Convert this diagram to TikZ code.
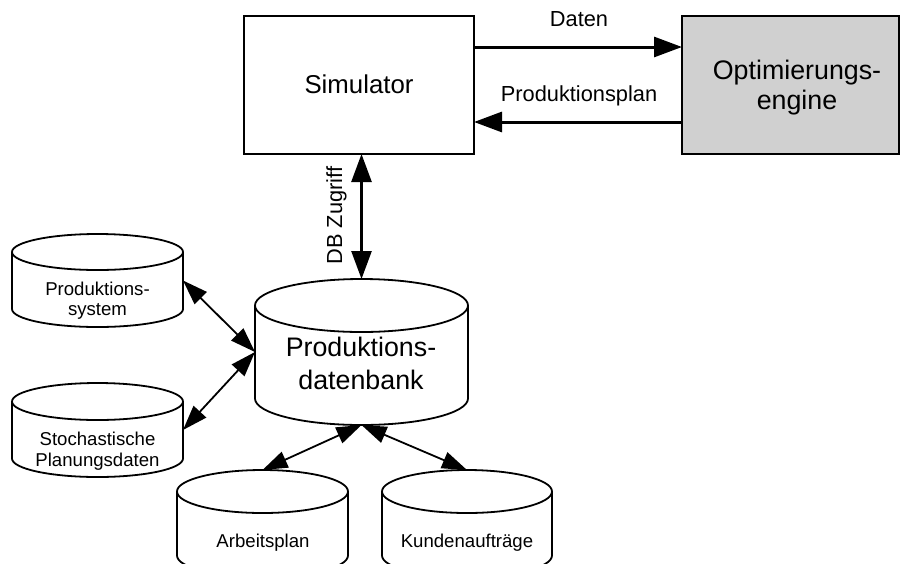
\documentclass[tikz,border=0pt]{standalone}
\usepackage{fontspec}
\setmainfont{Liberation Sans}
\usetikzlibrary{arrows.meta}

\definecolor{enginegray}{RGB}{208,208,208}

\tikzset{
  every node/.style={inner sep=0pt, outer sep=0pt},
  blockbox/.style={draw=black, line width=1.8pt, minimum width=#1},
  drumframe/.style={draw=none, rectangle},
  drumline/.style={draw=black, line width=1.8pt, fill=white},
  bigarrow/.style={line width=3pt, -{Triangle[length=28pt, width=20pt]}},
  dbarrow/.style={line width=2.6pt, {Triangle[length=28pt, width=20pt]}-{Triangle[length=28pt, width=20pt]}},
  linkarrow/.style={line width=1.8pt, {Triangle[length=25pt, width=17pt]}-{Triangle[length=25pt, width=17pt]}},
  bigtext/.style={font=\fontsize{26.8}{30}\selectfont, align=center},
  midtext/.style={font=\fontsize{21.8}{25}\selectfont},
  smalltext/.style={font=\fontsize{18.6}{20.5}\selectfont, align=center},
}

% database drum: name, centre x, top y, bottom y, width, end radius
\newcommand\drum[6]{%
  \pgfmathsetmacro\drumrx{#5/2}%
  \pgfmathsetmacro\drumtop{#3+#6}%
  \pgfmathsetmacro\drumbot{#4-#6}%
  \pgfmathsetmacro\drumh{#4-#3}%
  \pgfmathsetmacro\drummid{(#3+#4)/2}%
  \node[drumframe, minimum width=#5pt, minimum height=\drumh pt] (#1) at (#2,\drummid) {};
  \draw[drumline] (#2,\drumbot) ellipse[x radius=\drumrx, y radius=#6];
  \fill[white] (#2-\drumrx,\drumtop) rectangle (#2+\drumrx,\drumbot);
  \draw[drumline] (#2-\drumrx,\drumtop) -- (#2-\drumrx,\drumbot)
                  (#2+\drumrx,\drumtop) -- (#2+\drumrx,\drumbot);
  \draw[drumline] (#2,\drumtop) ellipse[x radius=\drumrx, y radius=#6];
}

\begin{document}
\begin{tikzpicture}[x=1pt, y=-1pt]
  \useasboundingbox (0,0) rectangle (901,563);

  % simulator and optimisation engine
  \node[blockbox=230pt, minimum height=138pt] (sim) at (359,85) {};
  \node[midtext, font=\fontsize{25.8}{30}\selectfont] (simtext) at (359,84) {Simulator};
  \node[blockbox=217pt, minimum height=138pt, fill=enginegray] (opt) at (790.5,85) {};
  \node[bigtext] (opttext) at (797,88) {Optimierungs-\\engine};

  \draw[bigarrow] ([yshift=38pt]sim.east) -- ([yshift=38pt]opt.west);
  \draw[bigarrow] ([yshift=-37pt]opt.west) -- ([yshift=-37pt]sim.east);
  \node[midtext] (datenlabel) at (579,19) {Daten};
  \node[midtext] (planlabel) at (579,96) {Produktionsplan};

  % databases
  \drum{db}{361.5}{279}{425}{213}{26.5}
  \drum{ps}{97.5}{234}{327}{171}{18}
  \drum{sd}{97.5}{383}{477}{171}{18.5}
  \drum{ar}{262.5}{470}{577}{171}{21.5}
  \drum{kd}{467}{470}{577}{170}{21.5}

  \node[bigtext, font=\fontsize{26.8}{33}\selectfont] (dbtext) at (361,363) {Produktions-\\datenbank};
  \node[smalltext] (pstext) at (97.5,300.5) {Produktions-\\system};
  \node[smalltext] (sdtext) at (97.5,451) {Stochastische\\Planungsdaten};
  \node[smalltext] (artext) at (263,543) {Arbeitsplan};
  \node[smalltext] (kdtext) at (467,543) {Kundenaufträge};

  % database access
  \draw[dbarrow] (sim.south -| db.north) -- (db.north);
  \node[midtext, rotate=90] (dblabel) at (336.5,215.5) {DB Zugriff};

  % links between the databases
  \draw[linkarrow] (ps.east) -- (db.west);
  \draw[linkarrow] (sd.east) -- (db.west);
  \draw[linkarrow] (db.south) -- (ar.north);
  \draw[linkarrow] (db.south) -- (kd.north);
\end{tikzpicture}
\end{document}
